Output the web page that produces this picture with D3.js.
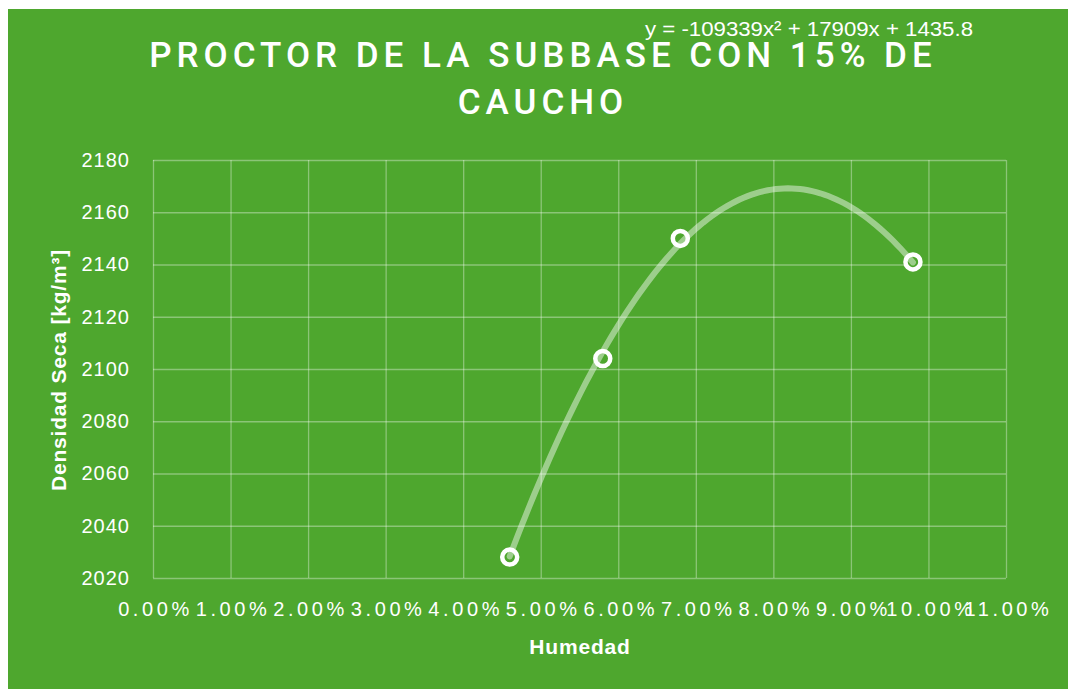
<!DOCTYPE html>
<html>
<head>
<meta charset="utf-8">
<script src="https://cdn.jsdelivr.net/npm/d3@7/dist/d3.min.js"></script>
<style>
body { margin: 0; background: #fff; }
text { font-family: "Liberation Sans", Arial, sans-serif; fill: #fff; }
</style>
</head>
<body>
<svg></svg>
<script>
var width = 1068;
var height = 689;

// data
var humedad = [0.046, 0.058, 0.068, 0.098];
var densidad = [2028, 2104, 2150, 2141];
var xTicks = [0, 0.01, 0.02, 0.03, 0.04, 0.05, 0.06, 0.07, 0.08, 0.09, 0.10, 0.11];
var yTicks = [2020, 2040, 2060, 2080, 2100, 2120, 2140, 2160, 2180];
// polynomial trendline coefficients (a x^2 + b x + c)
var trend = [-109339, 17909, 1435.8];

var margin = {left: 153, right: 62, top: 160, bottom: 111};

var xScale = d3.scaleLinear()
    .domain([0, 0.11])
    .range([margin.left, width - margin.right]);

var yScale = d3.scaleLinear()
    .domain([2020, 2180])
    .range([height - margin.bottom, margin.top]);

var svg = d3.select("svg")
    .attr("width", width)
    .attr("height", height);

svg.append("rect")
    .attr("x", 8)
    .attr("y", 9)
    .attr("width", width - 8)
    .attr("height", height - 9)
    .attr("fill", "#4ea72e");

// grid
var xAxis = d3.axisBottom(xScale)
    .tickValues(xTicks)
    .tickSize(-(height - margin.top - margin.bottom))
    .tickSizeOuter(0)
    .tickFormat(d => (d * 100).toFixed(2) + "%");

var yAxis = d3.axisLeft(yScale)
    .tickValues(yTicks)
    .tickSize(-(width - margin.left - margin.right))
    .tickSizeOuter(0)
    .tickFormat(d3.format("d"));

var gx = svg.append("g")
    .classed("x-axis", true)
    .attr("transform", `translate(0, ${height - margin.bottom})`)
    .call(xAxis);

var gy = svg.append("g")
    .classed("y-axis", true)
    .attr("transform", `translate(${margin.left}, 0)`)
    .call(yAxis);

[gx, gy].forEach(g => {
    g.select(".domain").remove();
    g.selectAll(".tick line")
        .attr("stroke", "rgba(255,255,255,0.35)")
        .attr("stroke-width", 1.3);
});

gx.selectAll(".tick text")
    .attr("y", 24)
    .attr("dy", "0.71em")
    .attr("dx", 2)
    .style("font-size", "20px")
    .style("letter-spacing", "3.6px")
    .style("font-family", "Liberation Sans, Arial, sans-serif")
    .attr("fill", "#fff");

gy.selectAll(".tick text")
    .attr("x", -23)
    .style("font-size", "20px")
    .style("letter-spacing", "1px")
    .style("font-family", "Liberation Sans, Arial, sans-serif")
    .attr("fill", "#fff");

// points
var points = humedad.map((h, i) => ({x: h, y: densidad[i]}));

svg.append("g")
    .selectAll("circle")
    .data(points)
    .enter()
    .append("circle")
    .attr("cx", d => xScale(d.x))
    .attr("cy", d => yScale(d.y))
    .attr("r", 7.5)
    .attr("fill", "#4ea72e")
    .attr("stroke", "#fff")
    .attr("stroke-width", 4.5);

// trendline from the fitted polynomial, over the data range
var x0 = d3.min(humedad), x1 = d3.max(humedad);
var trendPts = d3.range(0, 101).map(i => {
    var x = x0 + (x1 - x0) * i / 100;
    return {x: x, y: trend[0] * x * x + trend[1] * x + trend[2]};
});

svg.append("path")
    .datum(trendPts)
    .attr("fill", "none")
    .attr("stroke", "rgba(255,255,255,0.45)")
    .attr("stroke-width", 6)
    .attr("stroke-linecap", "round")
    .attr("d", d3.line().x(d => xScale(d.x)).y(d => yScale(d.y)));

// titles
var title = svg.append("text")
    .attr("x", 543)
    .attr("text-anchor", "middle")
    .style("font-family", "Roboto, sans-serif")
    .style("font-weight", 500)
    .style("font-size", "35px")
    .style("letter-spacing", "5px");
title.append("tspan").attr("x", 543).attr("y", 67).text("PROCTOR DE LA SUBBASE CON 15% DE");
title.append("tspan").attr("x", 543).attr("y", 114).text("CAUCHO");

svg.append("text")
    .attr("x", 645)
    .attr("y", 36)
    .style("font-family", "Liberation Sans Narrow, Liberation Sans, sans-serif")
    .style("font-size", "20px")
    .attr("textLength", 328)
    .attr("lengthAdjust", "spacingAndGlyphs")
    .text("y = -109339x² + 17909x + 1435.8");

svg.append("text")
    .attr("x", 580)
    .attr("y", 654)
    .attr("text-anchor", "middle")
    .style("font-size", "21px")
    .style("letter-spacing", "0.8px")
    .style("font-weight", "bold")
    .text("Humedad");

svg.append("text")
    .attr("transform", "translate(66, 370) rotate(-90)")
    .attr("text-anchor", "middle")
    .style("font-size", "21px")
    .style("letter-spacing", "0.8px")
    .style("font-weight", "bold")
    .text("Densidad Seca [kg/m³]");
</script>
</body>
</html>
